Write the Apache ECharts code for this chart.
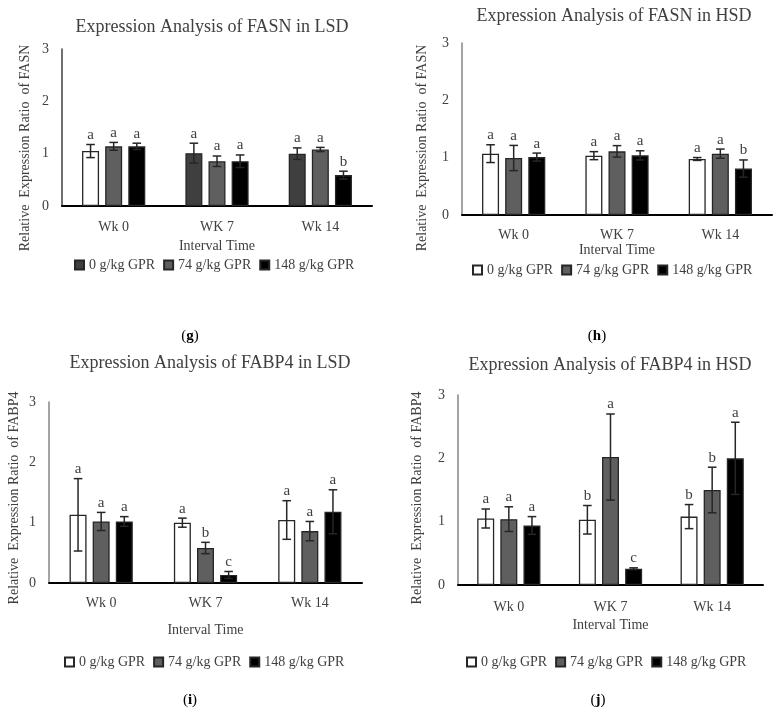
<!DOCTYPE html>
<html>
<head>
<meta charset="utf-8">
<script src="https://cdn.jsdelivr.net/npm/echarts@6/dist/echarts.min.js"></script>
<style>
html,body{margin:0;padding:0;background:#fff;}
#main{width:778px;height:715px;}
</style>
</head>
<body>
<div id="main"></div>
<script>
// ---------------- data ----------------
const categories = ['Wk 0', 'WK 7', 'Wk 14'];
const groupNames = ['0 g/kg GPR', '74 g/kg GPR', '148 g/kg GPR'];
const yTicks = [0, 1, 2, 3];

// (g) FASN in LSD
const fasnLsdMean = [[1.05, 1.01, 1.00], [1.14, 0.855, 1.08], [1.14, 0.855, 0.59]];
const fasnLsdErr  = [[0.125, 0.19, 0.11], [0.075, 0.10, 0.04], [0.06, 0.12, 0.075]];
const fasnLsdSig  = [['a', 'a', 'a'], ['a', 'a', 'a'], ['a', 'a', 'b']];

// (h) FASN in HSD
const fasnHsdMean = [[1.07, 1.035, 0.977], [0.994, 1.11, 1.07], [1.01, 1.04, 0.81]];
const fasnHsdErr  = [[0.155, 0.07, 0.025], [0.22, 0.10, 0.08], [0.07, 0.08, 0.15]];
const fasnHsdSig  = [['a', 'a', 'a'], ['a', 'a', 'a'], ['a', 'a', 'b']];

// (i) FABP4 in LSD
const fabpLsdMean = [[1.13, 1.00, 1.044], [1.02, 0.58, 0.86], [1.02, 0.133, 1.18]];
const fabpLsdErr  = [[0.60, 0.075, 0.32], [0.15, 0.094, 0.16], [0.08, 0.058, 0.365]];
const fabpLsdSig  = [['a', 'a', 'a'], ['a', 'b', 'a'], ['a', 'c', 'a']];

// (j) FABP4 in HSD
const fabpHsdMean = [[1.05, 1.03, 1.08], [1.04, 2.02, 1.50], [0.94, 0.258, 2.00]];
const fabpHsdErr  = [[0.15, 0.225, 0.19], [0.195, 0.68, 0.36], [0.14, 0.013, 0.57]];
const fabpHsdSig  = [['a', 'b', 'b'], ['a', 'a', 'b'], ['a', 'c', 'a']];

// ---------------- styles / layout ----------------
const FONT = '"Liberation Serif", "Times New Roman", serif';
const TXT = '#404040';
const BAR_W = 17;
const BAR_GAP = '36%';

const panels = [
  { key: 'g', title: 'Expression Analysis of FASN in LSD', yName: 'Relative  Expression Ratio  of FASN',
    mean: fasnLsdMean, err: fasnLsdErr, sig: fasnLsdSig,
    grid: { left: 62, top: 49, width: 310, height: 157 }, yAxisColor: '#404040',
    titleXY: [212, 27], yNameXY: [25, 148], labelMargin: 14, nameGap: 33,
    legendXY: [74, 258], tagXY: [190, 336],
    colors: ['#3f3f3f', '#5f5f5f', '#000000'], firstColors: ['#ffffff', '#3f3f3f', '#3f3f3f'] },
  { key: 'h', title: 'Expression Analysis of FASN in HSD', yName: 'Relative  Expression Ratio  of FASN',
    mean: fasnHsdMean, err: fasnHsdErr, sig: fasnHsdSig,
    grid: { left: 462, top: 43, width: 310, height: 172 }, yAxisColor: '#868686',
    titleXY: [614, 16], yNameXY: [422, 148], labelMargin: 13, nameGap: 26,
    legendXY: [472, 263], tagXY: [597, 336],
    colors: ['#ffffff', '#5f5f5f', '#000000'] },
  { key: 'i', title: 'Expression Analysis of FABP4 in LSD', yName: 'Relative  Expression Ratio  of FABP4',
    mean: fabpLsdMean, err: fabpLsdErr, sig: fabpLsdSig,
    grid: { left: 49, top: 402, width: 313, height: 181 }, yAxisColor: '#868686',
    titleXY: [210, 363], yNameXY: [14, 498], labelMargin: 13, nameGap: 40,
    legendXY: [64, 655], tagXY: [190, 700],
    colors: ['#ffffff', '#5f5f5f', '#000000'] },
  { key: 'j', title: 'Expression Analysis of FABP4 in HSD', yName: 'Relative  Expression Ratio  of FABP4',
    mean: fabpHsdMean, err: fabpHsdErr, sig: fabpHsdSig,
    grid: { left: 458, top: 395, width: 305, height: 190 }, yAxisColor: '#868686',
    titleXY: [610, 365], yNameXY: [417, 498], labelMargin: 15, nameGap: 33,
    legendXY: [466, 655], tagXY: [598, 700],
    colors: ['#ffffff', '#5f5f5f', '#000000'] }
];

const option = {
  backgroundColor: '#ffffff',
  animation: false,
  title: [], grid: [], xAxis: [], yAxis: [], legend: [], series: [], graphic: []
};

panels.forEach((p, pi) => {
  option.title.push({
    text: p.title, left: p.titleXY[0], top: p.titleXY[1], padding: 0,
    textAlign: 'center', textVerticalAlign: 'middle',
    textStyle: { fontFamily: FONT, fontSize: 18, fontWeight: 'normal', color: TXT }
  });
  option.grid.push(Object.assign({ containLabel: false, outerBoundsMode: 'none' }, p.grid));
  option.xAxis.push({
    type: 'category', gridIndex: pi, data: categories,
    axisLine: { lineStyle: { color: '#000', width: 2 } },
    axisTick: { show: false },
    axisLabel: { fontFamily: FONT, fontSize: 14, color: TXT, margin: p.labelMargin },
    name: 'Interval Time', nameLocation: 'middle', nameGap: p.nameGap,
    nameTextStyle: { fontFamily: FONT, fontSize: 14, color: TXT, verticalAlign: 'top' }
  });
  option.yAxis.push({
    type: 'value', gridIndex: pi, min: yTicks[0], max: yTicks[yTicks.length - 1], interval: 1,
    splitLine: { show: false },
    axisLine: { show: true, lineStyle: { color: p.yAxisColor, width: 1.5 } },
    axisTick: { show: false },
    axisLabel: { fontFamily: FONT, fontSize: 14, color: TXT, margin: 13 }
  });
  option.legend.push({
    data: groupNames.map(n => p.key + '|' + n),
    formatter: n => n.split('|')[1],
    left: p.legendXY[0], top: p.legendXY[1], padding: 0,
    itemWidth: 9, itemHeight: 9, itemGap: 8, icon: 'rect', selectedMode: false,
    textStyle: { fontFamily: FONT, fontSize: 14, color: TXT }
  });

  groupNames.forEach((gname, si) => {
    const data = p.mean[si].map((v, ci) => {
      if (si === 0 && p.firstColors) {
        return { value: v, itemStyle: { color: p.firstColors[ci] } };
      }
      return v;
    });
    option.series.push({
      type: 'bar', name: p.key + '|' + gname, xAxisIndex: pi, yAxisIndex: pi,
      data: data, barWidth: BAR_W, barGap: BAR_GAP,
      itemStyle: { color: p.colors[si], borderColor: '#262626', borderWidth: 1.3 },
      emphasis: { disabled: true }
    });
  });

  // error bars + significance letters
  groupNames.forEach((gname, si) => {
    const rows = p.mean[si].map((v, ci) => [ci, v, p.err[si][ci]]);
    const letters = p.sig[si];
    option.series.push({
      type: 'custom', xAxisIndex: pi, yAxisIndex: pi, z: 5, silent: true,
      data: rows, encode: { x: 0, y: 1 },
      renderItem: function (params, api) {
        const ci = api.value(0), m = api.value(1), e = api.value(2);
        const layout = api.barLayout({ count: 3, barWidth: BAR_W, barGap: BAR_GAP });
        const base = api.coord([ci, m]);
        const x = base[0] + layout[si].offsetCenter;
        const yTop = api.coord([ci, m + e])[1];
        const yBot = api.coord([ci, m - e])[1];
        const cap = 4.3;
        const ls = { stroke: '#262626', lineWidth: 1.5 };
        return {
          type: 'group',
          children: [
            { type: 'line', shape: { x1: x, y1: yTop, x2: x, y2: yBot }, style: ls },
            { type: 'line', shape: { x1: x - cap, y1: yTop, x2: x + cap, y2: yTop }, style: ls },
            { type: 'line', shape: { x1: x - cap, y1: yBot, x2: x + cap, y2: yBot }, style: ls },
            { type: 'text', x: x, y: yTop - 2,
              style: { text: letters[params.dataIndex], fontFamily: FONT, fontSize: 15, fill: TXT,
                       align: 'center', verticalAlign: 'bottom', textAlign: 'center', textVerticalAlign: 'bottom' } }
          ]
        };
      }
    });
  });

  option.graphic.push({
    type: 'text', x: p.yNameXY[0], y: p.yNameXY[1], rotation: Math.PI / 2,
    style: { text: p.yName, fontFamily: FONT, fontSize: 14, fill: TXT,
             align: 'center', verticalAlign: 'middle', textAlign: 'center', textVerticalAlign: 'middle' }
  });
  option.graphic.push({
    type: 'text', x: p.tagXY[0], y: p.tagXY[1],
    style: { text: '{n|(}{b|' + p.key + '}{n|)}', fontFamily: FONT, fontSize: 15, fill: '#000',
             align: 'center', verticalAlign: 'middle', textAlign: 'center', textVerticalAlign: 'middle',
             rich: { n: { fontFamily: FONT, fontSize: 15, fill: '#000' },
                     b: { fontFamily: FONT, fontSize: 15, fontWeight: 'bold', fill: '#000' } } }
  });
});

const chart = echarts.init(document.getElementById('main'), null, { renderer: 'canvas' });
chart.setOption(option);
</script>
</body>
</html>
